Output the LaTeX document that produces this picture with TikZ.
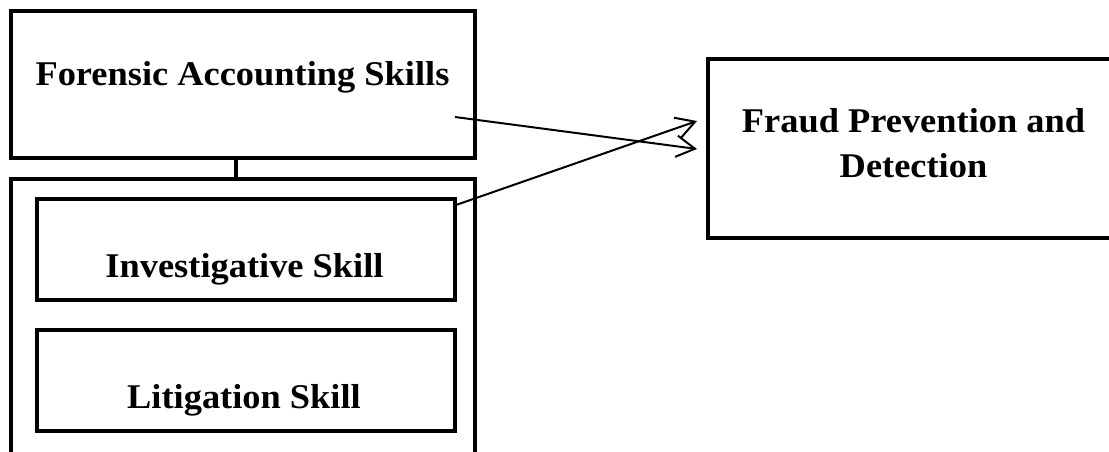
\documentclass[tikz,border=0pt]{standalone}
\usepackage{fontspec}
\setmainfont{Liberation Serif}[FakeStretch=1.05]
\usetikzlibrary{arrows.meta,calc}
\begin{document}
\begin{tikzpicture}[x=0.75pt,y=-0.75pt,
  thickbox/.style={draw=black,line width=3pt,rectangle,inner sep=0pt,outer sep=0pt,fill=none},
  thinbox/.style={draw=black,line width=2.6pt,rectangle,inner sep=0pt,outer sep=0pt,fill=none},
  lbl/.style={anchor=base,inner sep=0pt,font=\fontsize{26}{34}\selectfont\bfseries},
  arr/.style={line width=1.5pt,-{Straight Barb[length=14pt,width=16pt,line width=1.5pt]}},
  link/.style={line width=3pt}]
\useasboundingbox (0,0) rectangle (1109,452);
% boxes
\node[thickbox,minimum width={464*0.75pt},minimum height={147*0.75pt}] (top) at (243,84.5) {};
\node[thickbox,minimum width={464*0.75pt},minimum height={291*0.75pt}] (outer) at (243,324.5) {};
\node[thinbox,minimum width={418*0.75pt},minimum height={101*0.75pt}] (inv) at (246,249.5) {};
\node[thinbox,minimum width={418*0.75pt},minimum height={101*0.75pt}] (lit) at (246,380.5) {};
\node[thickbox,minimum width={407*0.75pt},minimum height={179*0.75pt}] (fraud) at (911.5,148.5) {};
% labels
\node[lbl] (topt) at (242.5,86) {Forensic Accounting Skills};
\node[lbl] (invt) at (244.5,277) {Investigative Skill};
\node[lbl] (litt) at (244,408) {Litigation Skill};
\node[lbl] (fraudt1) at (913.5,133) {Fraud Prevention and};
\node[lbl] (fraudt2) at (913.5,178) {Detection};
% vertical link
\coordinate (l1) at (236,158);
\coordinate (l2) at (236,179);
\draw[link] (l1) -- (l2);
% arrows
\coordinate (a1s) at (455,117);
\coordinate (a1e) at (697,149);
\coordinate (a2s) at (456,205);
\coordinate (a2e) at (697,121);
\draw[arr] (a1s) -- (a1e);
\draw[arr] (a2s) -- (a2e);
\end{tikzpicture}
\end{document}
